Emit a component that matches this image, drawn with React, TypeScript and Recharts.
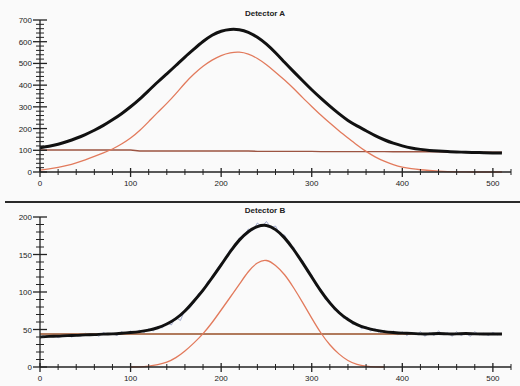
import React from "react";
import { LineChart, Line, XAxis, YAxis } from "recharts";

// ---- shared x positions ----
const xs = [0,10,20,30,40,50,60,70,80,90,100,110,120,130,140,150,160,170,180,190,200,210,220,230,240,250,260,270,280,290,300,310,320,330,340,350,360,370,380,390,400,410,420,430,440,450,460,470,480,490,500,510];
const xTicks = [0,20,40,60,80,100,120,140,160,180,200,220,240,260,280,300,320,340,360,380,400,420,440,460,480,500,520];

// ---- Detector A ----
const titleA = "Detector A";
const blackA = [112,118,127,140,155,172,192,214,240,268,300,335,375,415,452,490,530,566,602,632,650,658,657,645,622,590,550,505,462,420,378,340,303,268,236,212,190,167,148,132,120,110,104,99,96,94,92,91,90,89,88,87];
const redA = [9,14,21,30,42,56,72,88,105,128,155,190,232,275,315,360,410,452,488,516,538,550,554,545,524,495,460,424,385,342,302,262,225,190,157,124,94,69,49,34,22,15,10,7,4,2,1,0,0,0,0,0];
const baseA = [101,101,101,101,101,101,101,101,101,101,101,97,97,97,97,97,97,97,97,97,97,97,97,97,95,95,95,95,95,95,95,94,94,94,94,94,94,94,94,93,93,93,93,93,93,92,92,92,92,91,91,91];
const yTicksA = [0,20,40,60,80,100,120,140,160,180,200,220,240,260,280,300,320,340,360,380,400,420,440,460,480,500,520,540,560,580,600,620,640,660,680,700];

// ---- Detector B ----
const titleB = "Detector B";
const blackB = [40,41,41,42,42,43,43,44,44,45,46,47,49,52,57,64,74,88,102,119,136,154,170,181,188,190,184,173,157,139,120,101,85,72,63,56,52,49,47,46,45,45,44,44,45,44,44,45,44,44,44,44];
const redB = [null,null,null,null,null,null,null,null,null,null,0,0,1,3,6,12,21,32,44,59,76,93,110,128,140,144,136,124,106,86,65,45,29,17,8,3,1,0,0,null,null,null,null,null,null,null,null,null,null,null,null,null];
const baseB = [44,44,44,44,44,44,44,44,44,44,44,44,44,44,44,44,44,44,44,44,44,44,44,44,44,44,44,44,44,44,44,44,44,44,44,44,44,44,44,44,44,44,44,44,44,44,44,44,44,44,44,44];
const obsXB = [0,5,10,15,20,25,30,35,40,45,50,55,60,65,70,75,80,85,90,95,100,105,110,115,120,125,130,135,140,145,150,155,160,165,170,175,180,185,190,195,200,205,210,215,220,225,230,235,240,245,250,255,260,265,270,275,280,285,290,295,300,305,310,315,320,325,330,335,340,345,350,355,360,365,370,375,380,385,390,395,400,405,410,415,420,425,430,435,440,445,450,455,460,465,470,475,480,485,490,495,500,505,510];
const obsB = [38,44,40,43,39,42,44,40,43,41,45,42,44,41,46,43,45,42,47,44,48,45,49,46,51,48,54,52,59,56,66,62,76,78,86,98,101,114,117,130,138,146,157,160,172,174,184,182,192,187,194,186,188,177,176,162,160,146,142,127,123,108,104,90,88,76,75,65,66,57,58,51,54,48,51,45,49,44,48,43,47,42,46,43,47,41,46,42,48,43,46,41,47,42,45,41,47,43,45,42,46,43,45];
const yTicksB = [0,10,20,30,40,50,60,70,80,90,100,110,120,130,140,150,160,170,180,190,200];

const rowsA = xs.map((x, i) => ({ x, black: blackA[i], red: redA[i], base: baseA[i] }));
const rowsB = xs.map((x, i) => ({ x, black: blackB[i], red: redB[i], base: baseB[i] }));
const rowsObsB = obsXB.map((x, i) => ({ x, obs: obsB[i] }));

const FONT = "'Liberation Sans', Arial, sans-serif";

const XTick = (props: any) => {
  const { x, y, payload } = props;
  const major = payload.value % 100 === 0;
  return (
    <g>
      <line x1={x} x2={x} y1={y - (major ? 4 : 3)} y2={y + (major ? 5 : 3)} stroke="#222" strokeWidth={major ? 1.3 : 1} />
      {major && (
        <text x={x} y={y + 14} textAnchor="middle" fontSize={8} fontFamily={FONT} fill="#222">
          {payload.value}
        </text>
      )}
    </g>
  );
};

const makeYTick = (step: number) => (props: any) => {
  const { x, y, payload } = props;
  const major = payload.value % step === 0;
  return (
    <g>
      <line x1={x - (major ? 7 : 4)} x2={x + (major ? 7 : 4)} y1={y} y2={y} stroke="#222" strokeWidth={major ? 1.3 : 1} />
      {major && (
        <text x={x - 8} y={y + 3} textAnchor="end" fontSize={8} fontFamily={FONT} fill="#222">
          {payload.value}
        </text>
      )}
    </g>
  );
};
const YTickA = makeYTick(100);
const YTickB = makeYTick(50);

const titleStyle: React.CSSProperties = {
  position: "absolute",
  width: 120,
  textAlign: "center",
  fontSize: 8,
  fontWeight: "bold",
  fontFamily: FONT,
  color: "#222",
  lineHeight: "10px",
};

export default function App() {
  return (
    <div style={{ position: "absolute", left: 0, top: 0, width: 520, height: 386, background: "#fafafa", overflow: "hidden" }}>
      <div style={{ position: "absolute", left: 0, top: 0 }}>
        <LineChart width={520} height={195} data={rowsA} margin={{ top: 20, right: 9, bottom: 3, left: 10 }}>
          <XAxis dataKey="x" type="number" domain={[0, 520]} ticks={xTicks} interval={0} tickSize={0} tickMargin={0} tick={<XTick />} height={20} stroke="#222" strokeWidth={1.3} />
          <YAxis type="number" domain={[0, 700]} ticks={yTicksA} interval={0} tickSize={0} tickMargin={0} tick={<YTickA />} width={30} stroke="#222" strokeWidth={1.3} />
          <Line dataKey="base" stroke="#9c5442" strokeWidth={1.4} dot={false} isAnimationActive={false} />
          <Line dataKey="red" stroke="#e27a5c" strokeWidth={1.3} dot={false} isAnimationActive={false} type="basis" />
          <Line dataKey="black" stroke="#111" strokeWidth={3} dot={false} isAnimationActive={false} type="basis" />
        </LineChart>
      </div>
      <div style={{ ...titleStyle, left: 205, top: 9 }}>{titleA}</div>
      <div style={{ position: "absolute", left: 5, top: 201, width: 515, height: 2, background: "#2a2a2a" }} />
      <div style={{ position: "absolute", left: 0, top: 195 }}>
        <LineChart width={520} height={191} data={rowsB} margin={{ top: 22, right: 9, bottom: 3, left: 10 }}>
          <XAxis dataKey="x" type="number" domain={[0, 520]} ticks={xTicks} interval={0} tickSize={0} tickMargin={0} tick={<XTick />} height={16} stroke="#222" strokeWidth={1.3} />
          <YAxis type="number" domain={[0, 200]} ticks={yTicksB} interval={0} tickSize={0} tickMargin={0} tick={<YTickB />} width={30} stroke="#222" strokeWidth={1.3} />
          <Line data={rowsObsB} dataKey="obs" stroke="#5868a8" strokeOpacity={0.6} strokeWidth={0.9} dot={false} isAnimationActive={false} />
          <Line dataKey="base" stroke="#b07a5c" strokeWidth={2.2} dot={false} isAnimationActive={false} />
          <Line dataKey="red" stroke="#e27a5c" strokeWidth={1.3} dot={false} isAnimationActive={false} type="basis" />
          <Line dataKey="black" stroke="#111" strokeWidth={3} dot={false} isAnimationActive={false} type="basis" />
        </LineChart>
      </div>
      <div style={{ ...titleStyle, left: 205, top: 206 }}>{titleB}</div>
    </div>
  );
}
